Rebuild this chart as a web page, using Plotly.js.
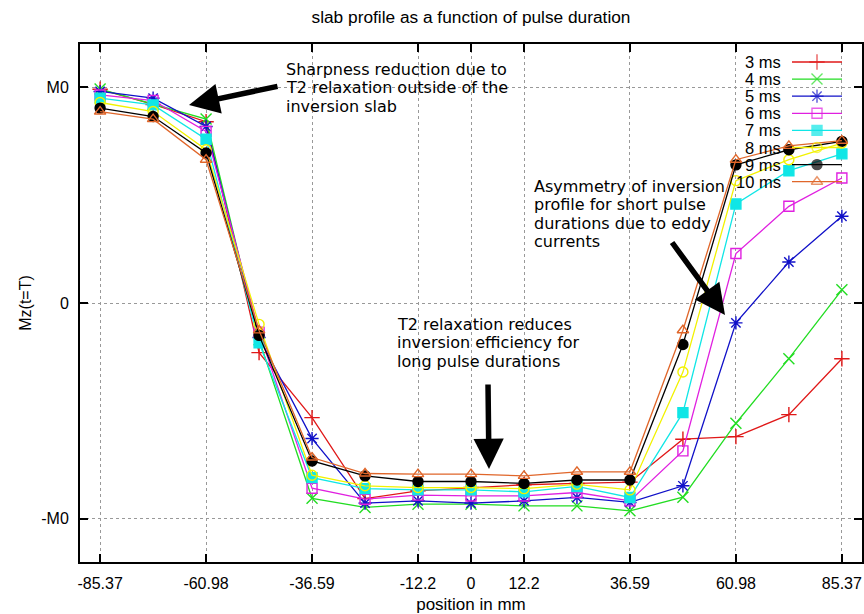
<!DOCTYPE html>
<html><head><meta charset="utf-8">
<script src="https://cdn.plot.ly/plotly-3.0.1.min.js"></script>
<style>html,body{margin:0;padding:0;background:#fff;} #chart{width:864px;height:614px;}</style>
</head><body><div id="chart"></div>
<script>
// ---- data ----
const positions = [-85.37, -73.17, -60.98, -48.78, -36.59, -24.39, -12.2, 0, 12.2, 24.39, 36.59, 48.78, 60.98, 73.17, 85.37];
const xTickVals = [-85.37, -60.98, -36.59, -12.2, 0, 12.2, 36.59, 60.98, 85.37];
const xTickText = ['-85.37', '-60.98', '-36.59', '-12.2', '0', '12.2', '36.59', '60.98', '85.37'];
const yTickVals = [-1, 0, 1];
const yTickText = ['-M0', '0', 'M0'];
const seriesNames = ['3 ms', '4 ms', '5 ms', '6 ms', '7 ms', '8 ms', '9 ms', '10 ms'];

const mz3ms  = [0.99, 0.92, 0.84, -0.23, -0.531, -0.906, -0.87, -0.855, -0.842, -0.836, -0.83, -0.631, -0.619, -0.517, -0.258];
const mz4ms  = [0.991, 0.921, 0.852, -0.17, -0.905, -0.947, -0.932, -0.932, -0.94, -0.94, -0.963, -0.90, -0.557, -0.258, 0.061];
const mz5ms  = [0.98, 0.949, 0.818, -0.16, -0.628, -0.927, -0.917, -0.927, -0.917, -0.901, -0.924, -0.847, -0.092, 0.19, 0.402];
const mz6ms  = [0.964, 0.938, 0.795, -0.135, -0.858, -0.909, -0.89, -0.894, -0.894, -0.878, -0.917, -0.685, 0.229, 0.448, 0.579];
const mz7ms  = [0.949, 0.918, 0.759, -0.184, -0.809, -0.86, -0.866, -0.866, -0.875, -0.85, -0.901, -0.508, 0.459, 0.613, 0.691];
const mz8ms  = [0.929, 0.887, 0.71, -0.099, -0.798, -0.847, -0.855, -0.855, -0.86, -0.84, -0.866, -0.32, 0.567, 0.664, 0.741];
const mz9ms  = [0.903, 0.864, 0.695, -0.15, -0.732, -0.801, -0.827, -0.827, -0.836, -0.82, -0.82, -0.192, 0.64, 0.71, 0.749];
const mz10ms = [0.887, 0.852, 0.664, -0.127, -0.716, -0.79, -0.793, -0.793, -0.801, -0.782, -0.782, -0.126, 0.664, 0.728, 0.752];
const seriesValues = [mz3ms, mz4ms, mz5ms, mz6ms, mz7ms, mz8ms, mz9ms, mz10ms];

// ---- styles ----
const colors  = ['#e01818', '#22dd22', '#1010c8', '#e020e0', '#10e6e6', '#f2f200', '#000000', '#e0662a'];
const symbols = ['cross-thin-open', 'x-thin-open', 'asterisk-open', 'square-open', 'square', 'circle-open', 'circle', 'triangle-up-open'];
const sizes   = [11, 11, 11, 10, 10, 10, 10, 10];

const W = 864, H = 614, L = 80, R = 2, T = 44, B = 52;
const PW = W - L - R, PH = H - T - B;
const px2x = p => (p - L) / PW;
const px2y = p => (H - B - p) / PH;

const traces = [];
seriesValues.forEach((vals, i) => {
  traces.push({
    x: positions, y: vals, type: 'scatter', mode: 'lines+markers', name: seriesNames[i],
    showlegend: false,
    line: {color: colors[i], width: 1.3},
    marker: {symbol: symbols[i], size: sizes[i], color: colors[i], line: {color: colors[i], width: 1.4}}
  });
});

// custom gnuplot-style legend (text then sample), on an overlay axis in [0,1]
const annotations = [];
const legTextRight = 783, legLineL = 792, legLineR = 842, legTop = 62, legStep = 17.1;
seriesNames.forEach((nm, i) => {
  const yy = px2y(legTop + i * legStep);
  traces.push({
    x: [px2x(legLineL), px2x((legLineL + legLineR) / 2), px2x(legLineR)], y: [yy, yy, yy],
    xaxis: 'x2', yaxis: 'y2', type: 'scatter', mode: 'lines+markers', showlegend: false, hoverinfo: 'skip',
    line: {color: colors[i], width: 1.3},
    marker: {symbol: symbols[i], size: [0, sizes[i], 0], color: colors[i], line: {color: colors[i], width: 1.4}}
  });
  annotations.push({
    xref: 'paper', yref: 'paper', x: px2x(legTextRight), y: yy, xanchor: 'right', yanchor: 'middle',
    text: nm, showarrow: false, font: {family: 'Liberation Sans, Arial, sans-serif', size: 16.5, color: '#000'}
  });
});

// callout texts
const noteFont = {family: 'DejaVu Sans, Verdana, sans-serif', size: 16, color: '#000'};
function addNote(lines, leftPx, firstPx, stepPx) {
  lines.forEach((t, k) => {
    annotations.push({xref: 'paper', yref: 'paper', x: px2x(leftPx - 3), y: px2y(firstPx + k * stepPx),
      xanchor: 'left', yanchor: 'middle', text: t, showarrow: false, font: noteFont});
  });
}
addNote(['Sharpness reduction due to', 'T2 relaxation outside of the', 'inversion slab'], 287, 69, 18.8);
addNote(['Asymmetry of inversion', 'profile for short pulse', 'durations due to eddy', 'currents'], 535, 186, 18.6);
addNote(['T2 relaxation reduces', 'inversion efficiency for', 'long pulse durations'], 398, 324, 18.6);

function addArrow(tipX, tipY, tailX, tailY) {
  annotations.push({xref: 'paper', yref: 'paper', x: px2x(tipX), y: px2y(tipY), ax: tailX - tipX, ay: tailY - tipY,
    axref: 'pixel', ayref: 'pixel', text: '', showarrow: true, arrowhead: 2, arrowsize: 1.1, arrowwidth: 5.5,
    arrowcolor: '#000', standoff: 0});
}
addArrow(189, 105, 279, 86);
addArrow(725, 315, 671, 241);
addArrow(489, 469, 488, 383);

const tickFont = {family: 'Liberation Sans, Arial, sans-serif', size: 16, color: '#000'};
const layout = {
  width: W, height: H,
  margin: {l: L, r: R, t: T, b: B, pad: 0},
  paper_bgcolor: '#fff', plot_bgcolor: '#fff',
  showlegend: false,
  title: {text: 'slab profile as a function of pulse duration', x: 0.5, xref: 'paper', y: 1 - 17 / H, yref: 'container',
          yanchor: 'middle', font: {family: 'Liberation Sans, Arial, sans-serif', size: 17.3, color: '#000'}},
  xaxis: {
    range: [-90, 90], tickmode: 'array', tickvals: xTickVals, ticktext: xTickText,
    ticks: 'inside', ticklen: 8, tickwidth: 1.5, tickcolor: '#000',
    showline: true, linecolor: '#000', linewidth: 2, mirror: 'ticks',
    showgrid: true, gridcolor: '#999', griddash: 'dot', gridwidth: 1, zeroline: false,
    tickfont: tickFont, ticklabelstandoff: 6,
    title: {text: 'position in mm', font: {family: 'Liberation Sans, Arial, sans-serif', size: 17, color: '#000'}, standoff: 12}
  },
  yaxis: {
    range: [-1.2, 1.2], tickmode: 'array', tickvals: yTickVals, ticktext: yTickText,
    ticks: 'inside', ticklen: 8, tickwidth: 1.5, tickcolor: '#000',
    showline: true, linecolor: '#000', linewidth: 2, mirror: 'ticks',
    showgrid: true, gridcolor: '#999', griddash: 'dot', gridwidth: 1, zeroline: false,
    tickfont: tickFont, ticklabelstandoff: 6,
    title: {text: 'Mz(t=T)', font: {family: 'Liberation Sans, Arial, sans-serif', size: 16, color: '#000'}, standoff: 6}
  },
  xaxis2: {overlaying: 'x', range: [0, 1], visible: false, fixedrange: true},
  yaxis2: {overlaying: 'y', range: [0, 1], visible: false, fixedrange: true},
  annotations: annotations
};

Plotly.newPlot('chart', traces, layout, {staticPlot: true, displayModeBar: false});
</script>
</body></html>
